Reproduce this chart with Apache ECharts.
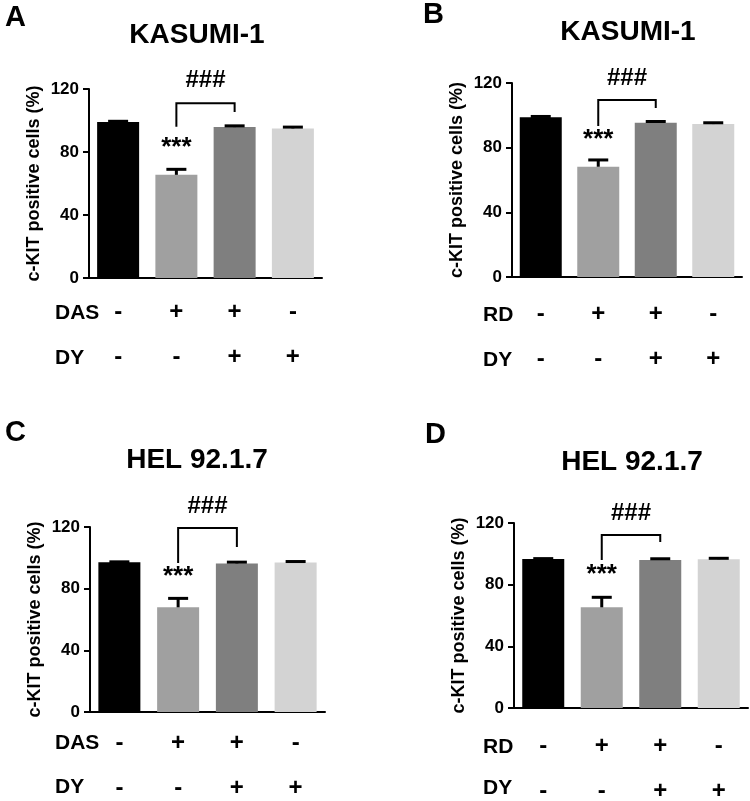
<!DOCTYPE html>
<html>
<head>
<meta charset="utf-8">
<script src="https://cdn.jsdelivr.net/npm/echarts@6/dist/echarts.min.js"></script>
<style>html,body{margin:0;padding:0;background:#fff}#c{width:750px;height:801px}</style>
</head>
<body>
<div id="c"></div>
<script>
// ---- data ----
const categories = ['1', '2', '3', '4'];
const dasSigns = ['-', '+', '+', '-'];
const rdSigns = ['-', '+', '+', '-'];
const dySigns = ['-', '-', '+', '+'];
const yTicks = [0, 40, 80, 120];

const valuesA = [99.0, 65.5, 95.8, 95.0];
const errorsA = [0.5, 3.5, 0.8, 0.8];
const valuesB = [98.8, 68.2, 95.4, 94.6];
const errorsB = [0.5, 4.2, 0.8, 0.8];
const valuesC = [97.1, 67.9, 96.4, 97.0];
const errorsC = [0.3, 5.8, 0.8, 0.6];
const valuesD = [96.6, 65.3, 96.0, 96.5];
const errorsD = [0.3, 6.5, 0.8, 0.6];

// bracket: [fromCat, toCat, topValue, leftBottom, rightBottom, hashValue, starValue]
const bracketA = [1, 2, 111, 96, 105.4, 125.7, 82.5];
const bracketB = [1, 2, 109.5, 93.4, 104.5, 123, 84.7];
const bracketC = [1, 2, 119.3, 96.6, 107, 133.6, 87.5];
const bracketD = [1, 2, 112.2, 96, 107.7, 126.5, 86.2];

// ---- style / layout ----
const barColors = ['#000000', '#a0a0a0', '#7f7f7f', '#d3d3d3'];
const FONT = 'Liberation Sans, Arial, sans-serif';

const panels = [
  {letter: 'A', title: 'KASUMI-1', drug: 'DAS', drugSigns: dasSigns, values: valuesA, errors: errorsA, bracket: bracketA,
   grid: {left: 89, top: 89, width: 233, height: 189}, letterPos: [5, 18], titlePos: [197, 35], rowX: 55, rowY: [313, 358], labelMargin: 12},
  {letter: 'B', title: 'KASUMI-1', drug: 'RD', drugSigns: rdSigns, values: valuesB, errors: errorsB, bracket: bracketB,
   grid: {left: 512, top: 83, width: 230, height: 194}, letterPos: [423, 15], titlePos: [628, 32], rowX: 483, rowY: [315, 360], labelMargin: 15},
  {letter: 'C', title: 'HEL 92.1.7', drug: 'DAS', drugSigns: dasSigns, values: valuesC, errors: errorsC, bracket: bracketC,
   grid: {left: 90, top: 527, width: 235, height: 185}, letterPos: [5, 433], titlePos: [197, 460], rowX: 55, rowY: [743, 787], labelMargin: 9},
  {letter: 'D', title: 'HEL 92.1.7', drug: 'RD', drugSigns: rdSigns, values: valuesD, errors: errorsD, bracket: bracketD,
   grid: {left: 514, top: 523, width: 234, height: 185}, letterPos: [425, 435], titlePos: [632, 462], rowX: 483, rowY: [747, 788], labelMargin: 16}
];

const option = {animation: false, backgroundColor: '#fff', grid: [], xAxis: [], yAxis: [], series: [], graphic: []};

panels.forEach((p, i) => {
  option.grid.push(Object.assign({containLabel: false, outerBoundsMode: 'none'}, p.grid));
  option.xAxis.push({
    gridIndex: i, type: 'category', data: categories,
    axisLine: {lineStyle: {color: '#000', width: 2}},
    axisTick: {show: false},
    axisLabel: {
      formatter: (v, idx) => p.drugSigns[idx] + '\n' + dySigns[idx],
      lineHeight: 45, fontSize: 24, fontWeight: 'bold', color: '#000', margin: p.labelMargin, fontFamily: FONT
    }
  });
  option.yAxis.push({
    gridIndex: i, type: 'value', min: yTicks[0], max: yTicks[yTicks.length - 1], interval: yTicks[1] - yTicks[0],
    axisLine: {show: true, lineStyle: {color: '#000', width: 2}},
    axisTick: {show: true, length: 6, lineStyle: {color: '#000', width: 2}},
    splitLine: {show: false},
    axisLabel: {fontSize: 17, fontWeight: 'bold', color: '#000', margin: 10, fontFamily: FONT},
    name: 'c-KIT positive cells (%)', nameLocation: 'middle', nameGap: 46,
    nameTextStyle: {fontSize: 18, fontWeight: 'bold', color: '#000', fontFamily: FONT}
  });
  option.series.push({
    type: 'bar', xAxisIndex: i, yAxisIndex: i, barWidth: 42,
    data: p.values.map((v, k) => ({value: v, itemStyle: {color: barColors[k]}}))
  });
  option.series.push({
    type: 'custom', xAxisIndex: i, yAxisIndex: i, z: 5,
    encode: {x: 0, y: 1},
    data: p.values.map((v, k) => [k, v, p.errors[k]]),
    renderItem: (params, api) => {
      const base = api.coord([api.value(0), api.value(1)]);
      const top = api.coord([api.value(0), api.value(1) + api.value(2)]);
      return {type: 'group', children: [
        {type: 'line', shape: {x1: base[0], y1: base[1], x2: top[0], y2: top[1]}, style: {stroke: '#000', lineWidth: 3}},
        {type: 'line', shape: {x1: top[0] - 10, y1: top[1], x2: top[0] + 10, y2: top[1]}, style: {stroke: '#000', lineWidth: 3}}
      ]};
    }
  });
  option.series.push({
    type: 'custom', xAxisIndex: i, yAxisIndex: i, z: 6,
    encode: {x: 0, y: 2},
    data: [p.bracket],
    renderItem: (params, api) => {
      const f = api.value(0), t = api.value(1);
      const lb = api.coord([f, api.value(3)]);
      const lt = api.coord([f, api.value(2)]);
      const rt = api.coord([t, api.value(2)]);
      const rb = api.coord([t, api.value(4)]);
      const hashY = api.coord([f, api.value(5)])[1];
      const star = api.coord([f, api.value(6)]);
      return {type: 'group', children: [
        {type: 'polyline', shape: {points: [lb, lt, rt, rb]}, style: {stroke: '#000', lineWidth: 2, fill: null}},
        {type: 'text', x: (lt[0] + rt[0]) / 2, y: hashY, style: {text: '###', font: 'bold 24px ' + FONT, fill: '#000', align: 'center', verticalAlign: 'middle'}},
        {type: 'text', x: star[0], y: star[1], style: {text: '***', font: 'bold 26px ' + FONT, fill: '#000', align: 'center', verticalAlign: 'middle'}}
      ]};
    }
  });
  option.graphic.push(
    {type: 'text', x: p.letterPos[0], y: p.letterPos[1], style: {text: p.letter, font: 'bold 29px ' + FONT, fill: '#000', align: 'left', verticalAlign: 'middle'}},
    {type: 'text', x: p.titlePos[0], y: p.titlePos[1], style: {text: p.title, font: 'bold 28px ' + FONT, fill: '#000', align: 'center', verticalAlign: 'middle'}},
    {type: 'text', x: p.rowX, y: p.rowY[0], style: {text: p.drug, font: 'bold 21px ' + FONT, fill: '#000', align: 'left', verticalAlign: 'middle'}},
    {type: 'text', x: p.rowX, y: p.rowY[1], style: {text: 'DY', font: 'bold 21px ' + FONT, fill: '#000', align: 'left', verticalAlign: 'middle'}}
  );
});

const chart = echarts.init(document.getElementById('c'), null, {renderer: 'canvas'});
chart.setOption(option);
</script>
</body>
</html>
